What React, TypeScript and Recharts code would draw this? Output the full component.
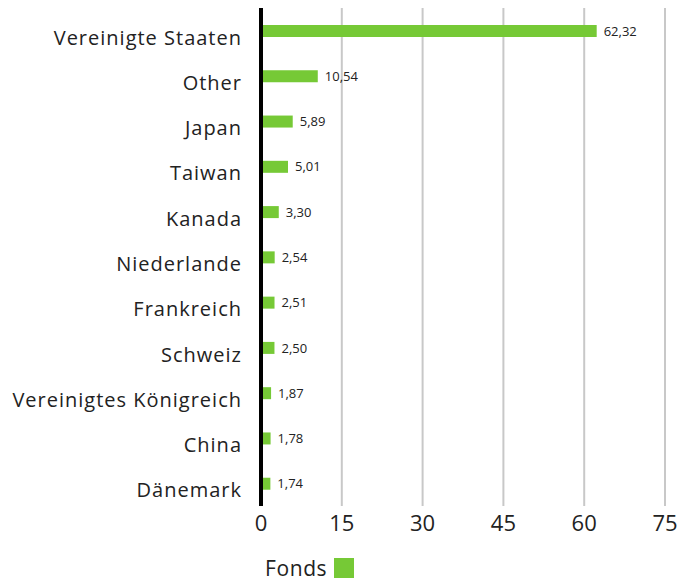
import { BarChart, Bar, XAxis, YAxis, CartesianGrid, Legend, LabelList } from "recharts"

const countries = [
  "Vereinigte Staaten",
  "Other",
  "Japan",
  "Taiwan",
  "Kanada",
  "Niederlande",
  "Frankreich",
  "Schweiz",
  "Vereinigtes Königreich",
  "China",
  "Dänemark",
]
const fonds = [62.32, 10.54, 5.89, 5.01, 3.3, 2.54, 2.51, 2.5, 1.87, 1.78, 1.74]
const xTicks = [0, 15, 30, 45, 60, 75]

const data = countries.map((name, i) => ({ name, fonds: fonds[i] }))

const green = "#76c936"
const font = "'Open Sans', sans-serif"

function FondsLegend() {
  return (
    <div style={{ display: "flex", alignItems: "center", fontFamily: font, fontSize: 21, lineHeight: "20px", color: "#222", letterSpacing: 0.6 }}>
      <span>Fonds</span>
      <span style={{ display: "inline-block", width: 20, height: 20, background: green, marginLeft: 7 }} />
    </div>
  )
}

// category labels sit a little below the bar centre in the original
function CountryTick(props: any) {
  const { x, y, payload } = props
  return (
    <text
      x={x}
      y={y}
      dy={14}
      textAnchor="end"
      fontSize={20}
      fill="#222"
      fontFamily={font}
      letterSpacing={1}
    >
      {payload.value}
    </text>
  )
}

export default function App() {
  return (
    <div style={{ position: "absolute", left: 0, top: 0 }}>
      <BarChart
        width={679}
        height={580}
        data={data}
        layout="vertical"
        margin={{ top: 8, right: 14, bottom: 23, left: 0 }}
      >
        <CartesianGrid horizontal={false} stroke="#c8c8c8" strokeWidth={2} />
        <XAxis
          type="number"
          domain={[0, 75]}
          ticks={xTicks}
          axisLine={false}
          tickLine={false}
          tickMargin={3}
          height={30}
          tick={{ fontSize: 22, fill: "#222", fontFamily: font }}
        />
        <YAxis
          type="category"
          dataKey="name"
          width={261}
          axisLine={{ stroke: "#000", strokeWidth: 4 }}
          tickLine={false}
          tickMargin={13}
          interval={0}
          tick={<CountryTick />}
        />
        <Legend
          verticalAlign="bottom"
          height={22}
          content={() => <FondsLegend />}
          wrapperStyle={{ left: 265, top: 558, width: "auto", height: 21 }}
        />
        <Bar dataKey="fonds" fill={green} barSize={12} isAnimationActive={false}>
          <LabelList
            dataKey="fonds"
            position="right"
            offset={7}
            fontSize={13}
            fill="#222"
            fontFamily={font}
            formatter={(v: number) => v.toFixed(2).replace(".", ",")}
          />
        </Bar>
      </BarChart>
    </div>
  )
}
